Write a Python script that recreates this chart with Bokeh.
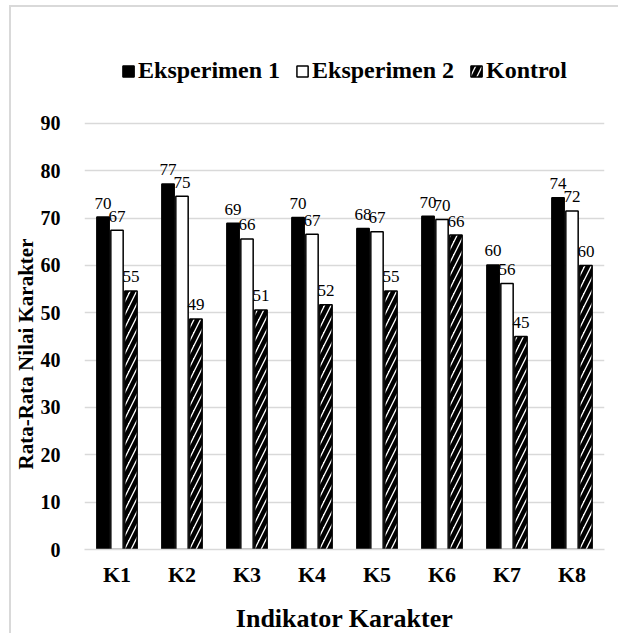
from bokeh.plotting import figure
from bokeh.models import FactorRange, Legend, LegendItem, ColumnDataSource, Title
from bokeh.transform import dodge
from bokeh.core.properties import value
from bokeh.embed import file_html
from bokeh.resources import INLINE

categories = ["K1", "K2", "K3", "K4", "K5", "K6", "K7", "K8"]
eksperimen1 = [70.2, 77.2, 68.9, 70.1, 67.8, 70.4, 60.1, 74.3]
eksperimen2 = [67.4, 74.6, 65.6, 66.6, 67.1, 69.7, 56.2, 71.5]
kontrol = [54.6, 48.7, 50.6, 51.7, 54.6, 66.4, 45.0, 60.0]
series_names = ["Eksperimen 1", "Eksperimen 2", "Kontrol"]
y_ticks = [0, 10, 20, 30, 40, 50, 60, 70, 80, 90]
y_title = "Rata-Rata Nilai Karakter"
x_title = "Indikator Karakter"

FONT = "Liberation Serif"
GRID = "#d9d9d9"

src = ColumnDataSource(dict(
    cat=categories,
    e1=eksperimen1, e2=eksperimen2, k=kontrol,
    l1=[f"{v:.0f}" for v in eksperimen1],
    l2=[f"{v:.0f}" for v in eksperimen2],
    lk=[f"{v:.0f}" for v in kontrol],
))

p = figure(
    x_range=FactorRange(*categories, range_padding=0),
    y_range=(0, 108.13),
    width=609, height=628,
    output_backend="svg", toolbar_location=None,
    min_border_left=71, min_border_right=16,
    min_border_top=30, min_border_bottom=85,
    styles={"margin-left": "9px", "margin-top": "5px",
            "border-left": f"2px solid {GRID}", "border-top": f"2px solid {GRID}"},
)
p.outline_line_color = None
p.background_fill_color = "white"
p.border_fill_color = "white"

W = 0.19
OFF = 0.215
r1 = p.vbar(x=dodge("cat", -OFF, range=p.x_range), top="e1", width=W, source=src,
            fill_color="black", line_color="black", line_width=1.5)
r2 = p.vbar(x=dodge("cat", 0, range=p.x_range), top="e2", width=W, source=src,
            fill_color="white", line_color="black", line_width=1.5)
r3 = p.vbar(x=dodge("cat", OFF, range=p.x_range), top="k", width=W, source=src,
            fill_color="white", line_color="black", line_width=1.5,
            hatch_pattern="/", hatch_color="black", hatch_weight=4.5, hatch_scale=13)

for off, col, lab in [(-OFF, "e1", "l1"), (0, "e2", "l2"), (OFF, "k", "lk")]:
    p.text(x=dodge("cat", off, range=p.x_range), y=col, text=lab, source=src,
           text_font=value(FONT), text_font_size="17px", text_color="black",
           text_align="center", text_baseline="alphabetic", y_offset=-14)

# axes
p.xgrid.grid_line_color = None
p.ygrid.grid_line_color = GRID
p.ygrid.grid_line_width = 1.5
p.yaxis.ticker = y_ticks
p.ygrid.ticker = y_ticks
p.yaxis.axis_line_color = None
p.yaxis.major_tick_line_color = None
p.yaxis.minor_tick_line_color = None
p.yaxis.major_label_standoff = 18
p.yaxis.major_label_text_font = FONT
p.yaxis.major_label_text_font_style = "bold"
p.yaxis.major_label_text_font_size = "20px"
p.yaxis.major_label_text_color = "black"

ytitle = Title(text=y_title, align="left", offset=80, standoff=0,
               text_font=FONT, text_font_style="bold", text_font_size="21px",
               text_color="black", text_line_height=1.0)
p.add_layout(ytitle, "left")

p.xaxis.axis_line_color = GRID
p.xaxis.axis_line_width = 1.5
p.xaxis.major_tick_line_color = None
p.xaxis.minor_tick_line_color = None
p.xaxis.major_label_standoff = 6
p.xaxis.major_label_text_font = FONT
p.xaxis.major_label_text_font_style = "bold"
p.xaxis.major_label_text_font_size = "22px"
p.xaxis.major_label_text_color = "black"
p.xaxis.axis_label = x_title
p.xaxis.axis_label_text_font = FONT
p.xaxis.axis_label_text_font_style = "bold"
p.xaxis.axis_label_text_font_size = "26px"
p.xaxis.axis_label_text_color = "black"
p.xaxis.axis_label_standoff = 14
p.xaxis.axis_label_text_line_height = 1.0

legend = Legend(
    items=[LegendItem(label=series_names[0], renderers=[r1]),
           LegendItem(label=series_names[1], renderers=[r2]),
           LegendItem(label=series_names[2], renderers=[r3])],
    orientation="horizontal", location="top_center",
    label_text_font=FONT, label_text_font_style="bold", label_text_font_size="24px",
    label_text_color="black", glyph_width=14, glyph_height=14, label_standoff=3,
    spacing=15, padding=0, margin=20, border_line_color=None, background_fill_alpha=0,
)
p.add_layout(legend, "center")

open("out.html", "w").write(file_html(p, INLINE))
